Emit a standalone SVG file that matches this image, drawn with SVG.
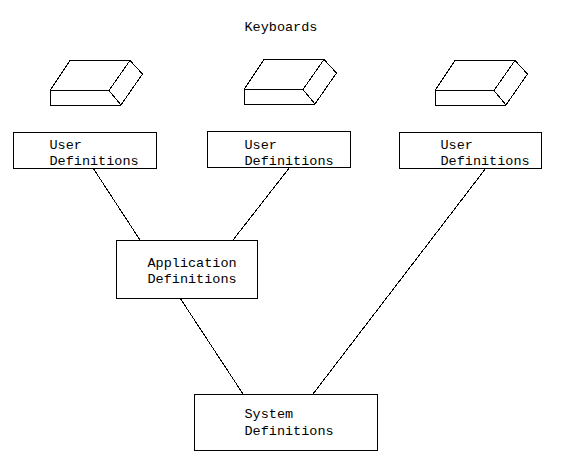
<svg xmlns="http://www.w3.org/2000/svg" width="565" height="475" viewBox="0 0 565 475">
<style>
.b{fill:#fff;stroke:#000;stroke-width:1;shape-rendering:crispEdges}
.k{fill:none;stroke:#000;stroke-width:1;stroke-linejoin:miter;shape-rendering:crispEdges}
.c{stroke:#000;stroke-width:1;fill:none;shape-rendering:crispEdges}
text{font-family:"Liberation Mono","Courier New",monospace;font-size:13.5px;fill:#000}
</style>
<defs>
<g id="kb" class="k">
<path d="M50 90.500L70 60.500H130L142.500 74L121 105H50.500V90.500H109L130 60.500M109 90.500L121 105"/>
</g>
</defs>
<rect width="565" height="475" fill="#fff"/>
<g id="connectors">
<path class="c" d="M93 168L140 240"/>
<path class="c" d="M290 167L233 240"/>
<path class="c" d="M486 168L313 394"/>
<path class="c" d="M180 298L243 394"/>
</g>
<g id="keyboards-label"><text x="244.500" y="31">Keyboards</text></g>
<g id="keyboard-1"><use href="#kb"/></g>
<g id="keyboard-2"><use href="#kb" x="194" y="-1"/></g>
<g id="keyboard-3"><use href="#kb" x="385" y="0"/></g>
<g id="user-1"><rect class="b" x="13.500" y="132.500" width="143" height="36"/><text x="49.500" y="149">User</text><text x="49.500" y="165">Definitions</text></g>
<g id="user-2"><rect class="b" x="207.500" y="131.500" width="143" height="36"/><text x="244.500" y="149">User</text><text x="244.500" y="165">Definitions</text></g>
<g id="user-3"><rect class="b" x="399.500" y="132.500" width="142" height="36"/><text x="440.500" y="149">User</text><text x="440.500" y="165">Definitions</text></g>
<g id="application"><rect class="b" x="116.500" y="240.500" width="141" height="58"/><text x="147.500" y="267">Application</text><text x="147.500" y="283">Definitions</text></g>
<g id="system"><rect class="b" x="194.500" y="394.500" width="183" height="56"/><text x="244.500" y="418">System</text><text x="244.500" y="435">Definitions</text></g>
</svg>
